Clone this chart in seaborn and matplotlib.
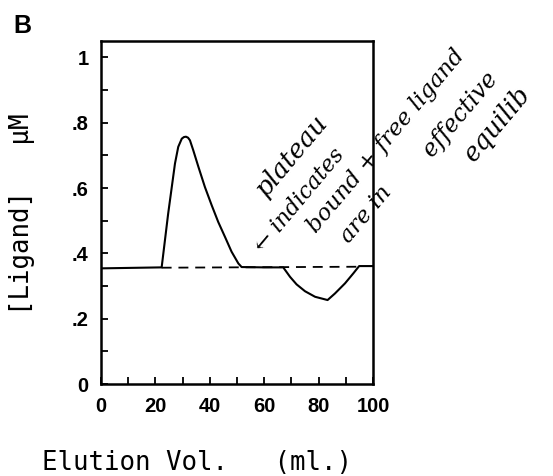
import matplotlib
matplotlib.use("Agg")
import matplotlib.pyplot as plt
import seaborn as sns
import pandas as pd
from matplotlib.ticker import MultipleLocator, FixedLocator

# ---- data ----
elution_ml = [0, 22.3, 24.7, 27.2, 28.4, 29.7, 30.5, 31.25, 32.0, 32.7, 33.9, 35.8,
              38.2, 40.7, 43.1, 45.6, 48.0, 50.5, 51.7, 60.0, 67.0, 69.5, 71.9,
              75.0, 78.7, 83.3, 86.0, 89.7, 92.8, 94.9, 98.3, 100]
ligand_uM = [0.354, 0.357, 0.522, 0.675, 0.726, 0.751, 0.756, 0.757, 0.754, 0.746,
             0.716, 0.665, 0.603, 0.547, 0.496, 0.450, 0.405, 0.369, 0.358, 0.357,
             0.357, 0.328, 0.305, 0.284, 0.267, 0.257, 0.277, 0.308, 0.339, 0.361,
             0.361, 0.361]
baseline_x = [22.3, 95.0]
baseline_y = [0.356, 0.359]

x_ticks = [0, 20, 40, 60, 80, 100]
x_ticklabels = ["0", "20", "40", "60", "80", "100"]
y_ticks = [0, 0.2, 0.4, 0.6, 0.8, 1.0]
y_ticklabels = ["0", ".2", ".4", ".6", ".8", "1"]

note_lines = ["plateau", "\u2190 indicates", "bound + free ligand", "are in",
              "effective", "equilib"]

# ---- figure ----
sns.set_theme(style="white")
plt.rcParams["font.family"] = ["Liberation Sans", "DejaVu Sans"]

fig = plt.figure(figsize=(5.53, 4.76), dpi=100)
ax = fig.add_axes([101 / 553, 1 - 384 / 476, 272 / 553, 343 / 476])

df = pd.DataFrame({"x": elution_ml, "y": ligand_uM})
sns.lineplot(data=df, x="x", y="y", sort=False, estimator=None, ax=ax,
             color="black", linewidth=1.5)
dfb = pd.DataFrame({"x": baseline_x, "y": baseline_y})
sns.lineplot(data=dfb, x="x", y="y", sort=False, estimator=None, ax=ax,
             color="black", linewidth=1.3, linestyle=(0, (5.5, 3.8)))

ax.set_xlim(0, 100)
ax.set_ylim(0, 1.05)
ax.xaxis.set_major_locator(FixedLocator(x_ticks))
ax.set_xticklabels(x_ticklabels)
ax.yaxis.set_major_locator(FixedLocator(y_ticks))
ax.set_yticklabels(y_ticklabels)
ax.xaxis.set_minor_locator(MultipleLocator(10))
ax.yaxis.set_minor_locator(MultipleLocator(0.1))
ax.tick_params(axis="both", which="both", direction="in", length=5, width=1.3,
               color="black", top=False, right=False, bottom=True, left=True)
ax.tick_params(axis="both", which="major", labelsize=14.5, pad=9, labelcolor="black")
for lab in ax.get_xticklabels() + ax.get_yticklabels():
    lab.set_fontweight("bold")
for s in ax.spines.values():
    s.set_color("black")
    s.set_linewidth(1.8)
ax.set_xlabel("")
ax.set_ylabel("")

# axis titles
fig.text(42 / 553, 1 - 470 / 476, "Elution Vol.   (ml.)", family="DejaVu Sans Mono",
         fontsize=18.5, ha="left", va="baseline", color="black")
fig.text(22 / 553, 1 - 214 / 476, "[Ligand]   \u00b5M", family="DejaVu Sans Mono",
         fontsize=18.5, ha="center", va="center", rotation=90, color="black")
fig.text(13 / 553, 1 - 33 / 476, "B", fontsize=18, fontweight="bold",
         ha="left", va="baseline", color="black")

# handwritten note
note_pos = [(266, 198), (263, 253), (316, 234), (349, 244), (432, 158), (474, 163)]
note_size = [18.5, 16, 16.5, 16.5, 17, 18.5]
for (px, py), sz, txt in zip(note_pos, note_size, note_lines):
    fig.text(px / 553, 1 - py / 476, txt, fontsize=sz, fontstyle="italic",
             family=["DejaVu Serif"], rotation=50, rotation_mode="anchor",
             ha="left", va="baseline", color="black")

fig.savefig("out.png", dpi=100)
